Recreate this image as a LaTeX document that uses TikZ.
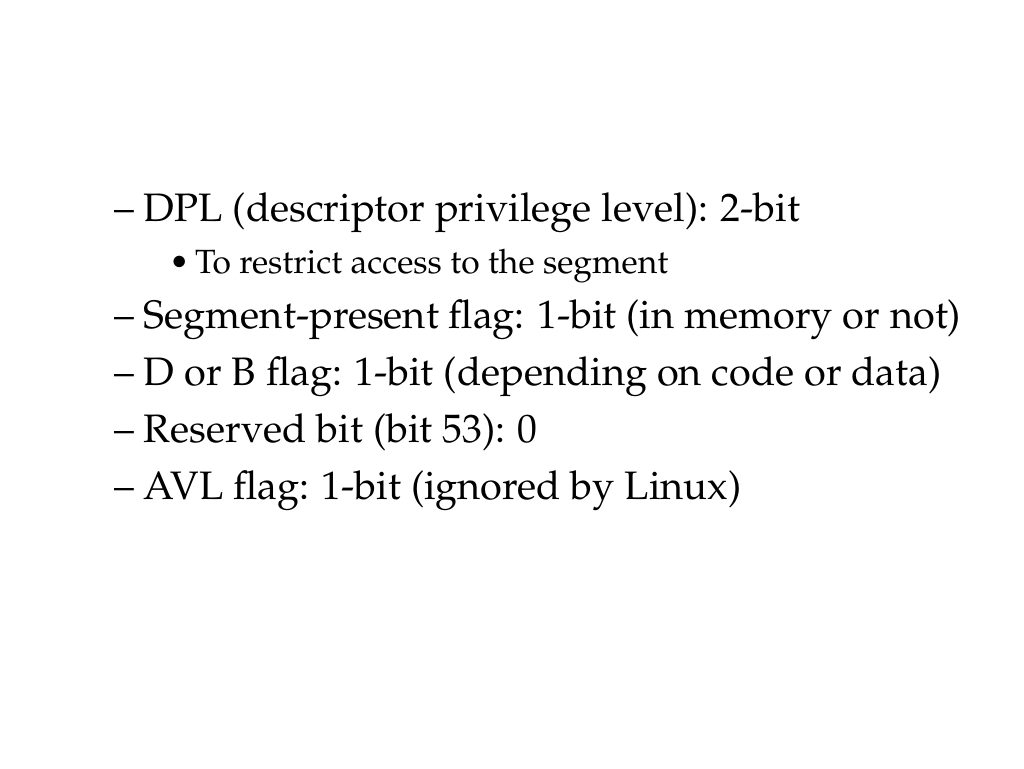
\documentclass[tikz,border=0pt]{standalone}
\usepackage[T1]{fontenc}
\usepackage{mathpazo}
\begin{document}
\begin{tikzpicture}[x=1pt,y=-1pt,
  item/.style={anchor=base west,inner sep=0pt,font=\fontsize{39.7}{48}\selectfont},
  subitem/.style={anchor=base west,inner sep=0pt,font=\fontsize{33.6}{40}\selectfont}]
\useasboundingbox (0,0) rectangle (1024,768);
% main list
\node[item] (dpl) at (114,221) {-- DPL (descriptor privilege level): 2-bit};
\node[subitem] (restrict) at (169,273) {\textbullet\,To restrict access to the segment};
\node[item] (present) at (114,328) {-- Segment-present flag: 1-bit (in memory or not)};
\node[item] (dbflag) at (114,385) {-- D or B flag: 1-bit (depending on code or data)};
\node[item] (reserved) at (114,442) {-- Reserved bit (bit 53): 0};
\node[item] (avl) at (114,499) {-- AVL flag: 1-bit (ignored by Linux)};
\end{tikzpicture}
\end{document}
